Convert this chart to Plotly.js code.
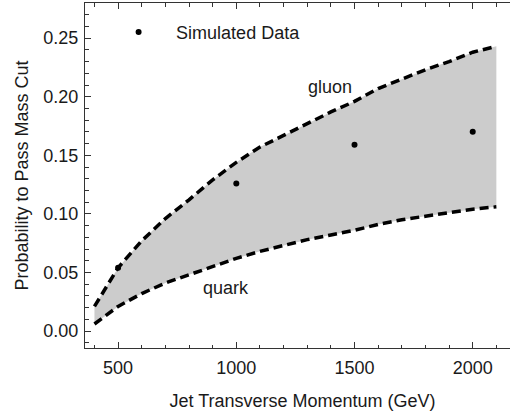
<!DOCTYPE html>
<html>
<head>
<meta charset="utf-8">
<script src="https://cdn.plot.ly/plotly-3.0.1.min.js"></script>
<style>
html, body { margin: 0; padding: 0; overflow: hidden; background: #fff; }
#chart { width: 540px; height: 416px; }
</style>
</head>
<body>
<div id="chart"></div>
<script>
// Jet transverse momentum grid (GeV)
const ptGrid = [400, 500, 600, 700, 800, 900, 1000, 1100, 1200, 1300, 1400, 1500, 1600, 1700, 1800, 1900, 2000, 2100];
// Gluon curve (upper)
const gluonProb = [0.021, 0.054, 0.077, 0.096, 0.112, 0.129, 0.144, 0.157, 0.167, 0.177, 0.187, 0.196, 0.207, 0.215, 0.223, 0.230, 0.238, 0.243];
// Quark curve (lower)
const quarkProb = [0.006, 0.021, 0.032, 0.041, 0.048, 0.055, 0.062, 0.068, 0.073, 0.078, 0.082, 0.086, 0.091, 0.095, 0.098, 0.101, 0.104, 0.106];
// Simulated data points
const simPt = [500, 1000, 1500, 2000];
const simProb = [0.054, 0.126, 0.159, 0.170];
// Curve labels
const labelText = ["gluon", "quark"];
const labelPt = [1398, 958];
const labelProb = [0.208, 0.0367];

const FONT = "Liberation Sans, Arial, sans-serif";
const TXT = "#1a1a1a";
const FS = 18;

const dashStyle = {color: "#000000", width: 3.5, dash: "9px,5px"};

const traces = [
  {x: ptGrid, y: quarkProb, mode: "lines", line: {width: 0}, showlegend: false, hoverinfo: "skip"},
  {x: ptGrid, y: gluonProb, mode: "lines", line: {width: 0}, fill: "tonexty", fillcolor: "#cccccc", showlegend: false, hoverinfo: "skip"},
  {x: ptGrid, y: gluonProb, mode: "lines", line: dashStyle, showlegend: false},
  {x: ptGrid, y: quarkProb, mode: "lines", line: dashStyle, showlegend: false},
  {x: simPt, y: simProb, mode: "markers", name: "Simulated Data", marker: {color: "#000000", size: 6}, showlegend: true}
];

const annotations = labelText.map((t, i) => ({
  x: labelPt[i], y: labelProb[i], xref: "x", yref: "y", text: t, showarrow: false,
  font: {family: FONT, size: FS, color: TXT}, xanchor: "center", yanchor: "middle"
}));

const axisCommon = {
  showgrid: false, zeroline: false, showline: true, linecolor: "#333333", linewidth: 1,
  mirror: "ticks", ticks: "inside", ticklen: 6, tickwidth: 1, tickcolor: "#333333",
  tickfont: {family: FONT, size: FS, color: TXT}
};

const layout = {
  width: 540, height: 416,
  margin: {l: 85, r: 20, t: 3, b: 68},
  paper_bgcolor: "#ffffff", plot_bgcolor: "#ffffff",
  showlegend: true,
  legend: {x: 0.037, y: 0.969, xanchor: "left", yanchor: "top", bgcolor: "rgba(0,0,0,0)",
           itemwidth: 65, font: {family: FONT, size: FS, color: TXT}},
  xaxis: Object.assign({}, axisCommon, {
    range: [360, 2200], tick0: 0, dtick: 500,
    minor: {dtick: 100, ticks: "inside", ticklen: 3.5, tickcolor: "#333333", tickwidth: 1},
    ticklabelstandoff: 3,
    title: {text: "Jet Transverse Momentum (GeV)", font: {family: FONT, size: FS, color: TXT}, standoff: 17}
  }),
  yaxis: Object.assign({}, axisCommon, {
    range: [-0.0145, 0.28], tick0: 0, dtick: 0.05, tickformat: ".2f",
    minor: {dtick: 0.01, ticks: "inside", ticklen: 3.5, tickcolor: "#333333", tickwidth: 1},
    ticklabelstandoff: 2,
    title: {text: "Probability to Pass Mass Cut", font: {family: FONT, size: FS, color: TXT}, standoff: 10}
  }),
  annotations: annotations
};

Plotly.newPlot("chart", traces, layout, {displayModeBar: false, staticPlot: true});
</script>
</body>
</html>
